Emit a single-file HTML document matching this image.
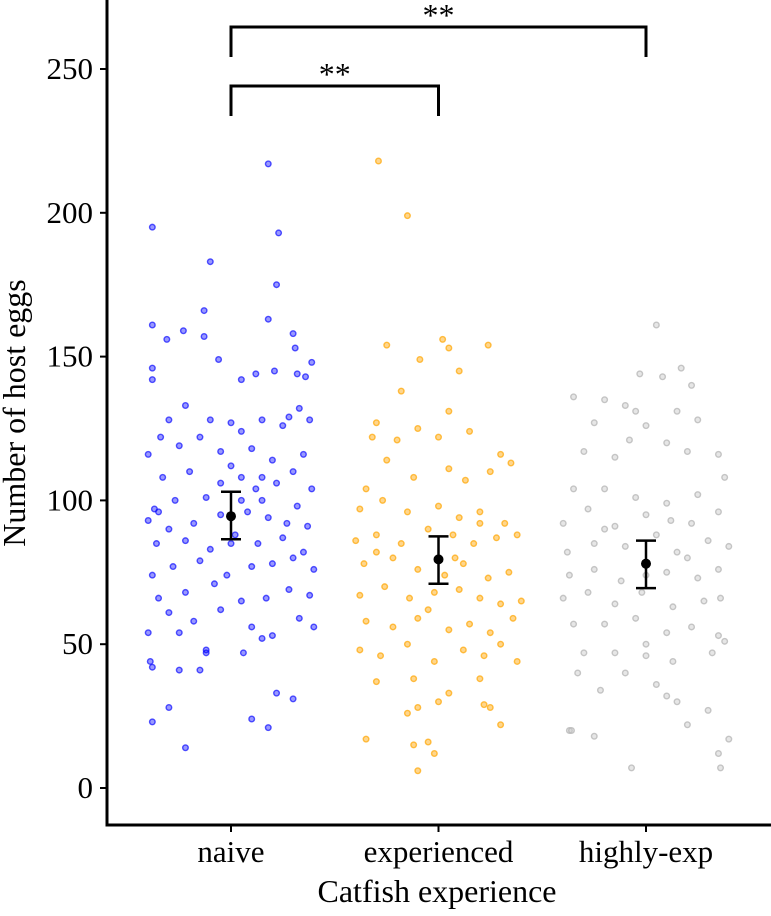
<!DOCTYPE html>
<html><head><meta charset="utf-8"><style>
html,body{margin:0;padding:0;background:#fff;}
svg text{font-family:"Liberation Serif",serif;fill:#000;}
</style></head><body>
<svg id="chart" width="771" height="911" viewBox="0 0 771 911" xmlns="http://www.w3.org/2000/svg"></svg>
<script>
const categories=["naive","experienced","highly-exp"];
const yTicks=[0,50,100,150,200,250];
const naivePts=[[.18,217],[-.38,195],[.23,193],[-.1,183],[.22,175],[-.38,161],[-.23,159],[-.13,166],[.18,163],[.3,158],[-.13,157],[-.31,156],[.31,153],[-.38,146],[-.06,149],[.39,148],[.32,144],[-.38,142],[.05,142],[.12,144],[.21,145],[.36,143],[-.22,133],[-.3,128],[-.1,128],[0,127],[.15,128],[.28,129],[.38,128],[-.34,122],[-.15,122],[.05,124],[.25,126],[.33,132],[-.4,116],[-.25,119],[-.05,117],[.1,118],[.2,114],[.35,116],[-.33,108],[-.2,110],[0,112],[.15,108],[.3,110],[.39,104],[-.37,97],[-.27,100],[-.12,101],[.05,100],[.12,104],[.22,106],[.32,98],[-.4,93],[-.3,90],[-.18,92],[-.05,95],[.08,96],[.18,94],[.27,92],[.37,91],[-.36,85],[-.22,86],[-.1,83],[.02,88],[.13,85],[.25,87],[.35,82],[-.38,74],[-.28,77],[-.15,79],[-.02,74],[.1,77],[.2,78],[.3,80],[.4,76],[-.35,66],[-.22,68],[-.08,71],[.05,65],[.17,66],[.28,69],[.38,67],[-.4,54],[-.3,61],[-.18,58],[-.05,62],[.1,56],[.2,53],[.33,59],[-.25,54],[-.12,47],[.06,47],[.15,52],[.4,56],[-.39,44],[-.38,42],[-.15,41],[-.25,41],[.22,33],[.3,31],[.1,24],[.18,21],[-.38,23],[-.3,28],[-.22,14],[-.12,48],[0,85],[.05,108],[-.35,96],[.15,100],[-.05,106]];
const expPts=[[-.29,218],[-.15,199],[.02,156],[.05,153],[.24,154],[-.25,154],[-.09,149],[.1,145],[-.18,138],[.05,131],[-.3,127],[-.1,125],[.15,124],[.3,116],[-.32,122],[-.2,121],[0,122],[.25,110],[-.35,104],[-.25,114],[-.12,108],[.05,111],[.13,107],[.35,113],[-.38,97],[-.27,100],[-.15,96],[0,98],[.1,94],[.2,96],[.32,92],[-.4,86],[-.3,88],[-.18,85],[-.05,90],[.07,88],[.17,85],[.28,87],[.38,88],[-.36,78],[-.22,80],[-.1,76],[.03,74],[.12,78],[.24,73],[.34,75],[-.38,67],[-.26,70],[-.14,66],[-.02,68],[.1,69],[.2,66],[.3,64],[.4,65],[-.35,58],[-.22,56],[-.1,59],[.05,55],[.15,57],[.25,54],[.36,59],[-.38,48],[-.28,46],[-.15,50],[-.02,44],[.12,48],[.22,46],[.38,44],[-.3,37],[-.12,38],[.05,33],[.2,38],[-.15,26],[-.1,28],[0,30],[.25,28],[.3,22],[-.35,17],[-.05,16],[-.02,12],[-.12,15],[-.1,6],[.22,29],[-.3,82],[.08,80],[.2,92],[-.05,62],[.3,50]];
const highPts=[[.05,161],[-.03,144],[.08,143],[.17,146],[.22,140],[-.2,135],[-.35,136],[-.1,133],[-.05,131],[0,126],[.15,131],[.25,128],[-.25,127],[-.08,121],[.1,120],[-.3,117],[-.15,115],[.2,117],[.35,116],[-.35,104],[-.2,104],[-.05,101],[.1,99],[.25,102],[.38,108],[-.4,92],[-.28,97],[-.15,91],[0,95],[.12,93],[.22,92],[.35,96],[-.38,82],[-.25,85],[-.1,84],[.05,88],[.15,82],[.3,86],[.4,84],[-.37,74],[-.25,76],[-.12,72],[0,74],[.1,75],[.25,73],[.35,76],[-.4,66],[-.28,68],[-.15,64],[-.02,68],[.13,63],[.28,65],[.36,66],[-.35,57],[-.2,57],[-.05,59],[.1,54],[.22,56],[.35,53],[.38,51],[-.3,47],[-.15,47],[0,46],[.13,44],[.32,47],[-.33,40],[-.22,34],[-.1,40],[.05,36],[.1,32],[.15,30],[.2,22],[.3,27],[-.37,20],[-.36,20],[-.25,18],[-.07,7],[.35,12],[.36,7],[.4,17],[0,50],[-.2,90],[.2,80]];
const means=[94.5,79.5,78];
const lowers=[86.5,71,69.5];
const uppers=[103,87.5,86];

const svg=document.getElementById('chart');
const NS='http://www.w3.org/2000/svg';
const y=v=>788-v*2.876;
const x=(i,j)=>231+i*207.5+(j||0)*207;
function mk(tag,attrs,parent){const e=document.createElementNS(NS,tag);for(const k in attrs)e.setAttribute(k,attrs[k]);(parent||svg).appendChild(e);return e;}
const fills=[["rgba(0,0,255,0.4)","rgba(0,0,255,0.65)"],["rgba(255,165,0,0.45)","rgba(255,165,0,0.7)"],["rgba(200,200,200,0.45)","rgba(180,180,180,0.75)"]];
[naivePts,expPts,highPts].forEach((pts,i)=>{
  const g=mk('g',{});
  
  
  pts.forEach(p=>{
    const c=mk('circle',{cx:x(i,p[0]),cy:y(p[1]),r:2.8,fill:fills[i][0],stroke:fills[i][1],'stroke-width':1.4},g);
    
    
  });
});
means.forEach((m,i)=>{
  const cx=x(i);
  const g=mk('g',{stroke:'#000','stroke-width':2.5});
  
  
  mk('line',{x1:cx,x2:cx,y1:y(lowers[i]),y2:y(uppers[i])},g);
  mk('line',{x1:cx-10,x2:cx+10,y1:y(lowers[i]),y2:y(lowers[i])},g);
  mk('line',{x1:cx-10,x2:cx+10,y1:y(uppers[i]),y2:y(uppers[i])},g);
  const d=mk('circle',{cx:cx,cy:y(m),r:5,fill:'#000',stroke:'none'});
  
  
});
const ax=mk('path',{d:'M107,0 V825 H771',fill:'none',stroke:'#000','stroke-width':3});


yTicks.forEach(t=>{
  mk('line',{x1:100,x2:107,y1:y(t),y2:y(t),stroke:'#000','stroke-width':2});
  const tx=mk('text',{x:93,y:y(t)+10,'text-anchor':'end','font-size':31});
  tx.textContent=t;
  
  
});
categories.forEach((c,i)=>{
  mk('line',{x1:x(i),x2:x(i),y1:825,y2:832,stroke:'#000','stroke-width':2});
  const tx=mk('text',{x:x(i),y:862,'text-anchor':'middle','font-size':31});
  tx.textContent=c;
  
  
});
const b1=mk('path',{d:`M${x(0)},57 V27 H${x(2)} V57`,fill:'none',stroke:'#000','stroke-width':3});


const b2=mk('path',{d:`M${x(0)},116 V86 H${x(1)} V116`,fill:'none',stroke:'#000','stroke-width':3});


const s1=mk('text',{x:(x(0)+x(2))/2,y:26,'text-anchor':'middle','font-size':32});s1.textContent='**';


const s2=mk('text',{x:(x(0)+x(1))/2,y:85,'text-anchor':'middle','font-size':32});s2.textContent='**';


const xt=mk('text',{x:437,y:902,'text-anchor':'middle','font-size':32});xt.textContent='Catfish experience';


const yt=mk('text',{x:0,y:0,'text-anchor':'middle','font-size':32,transform:'translate(25,413) rotate(-90)'});yt.textContent='Number of host eggs';


</script>
</body></html>
